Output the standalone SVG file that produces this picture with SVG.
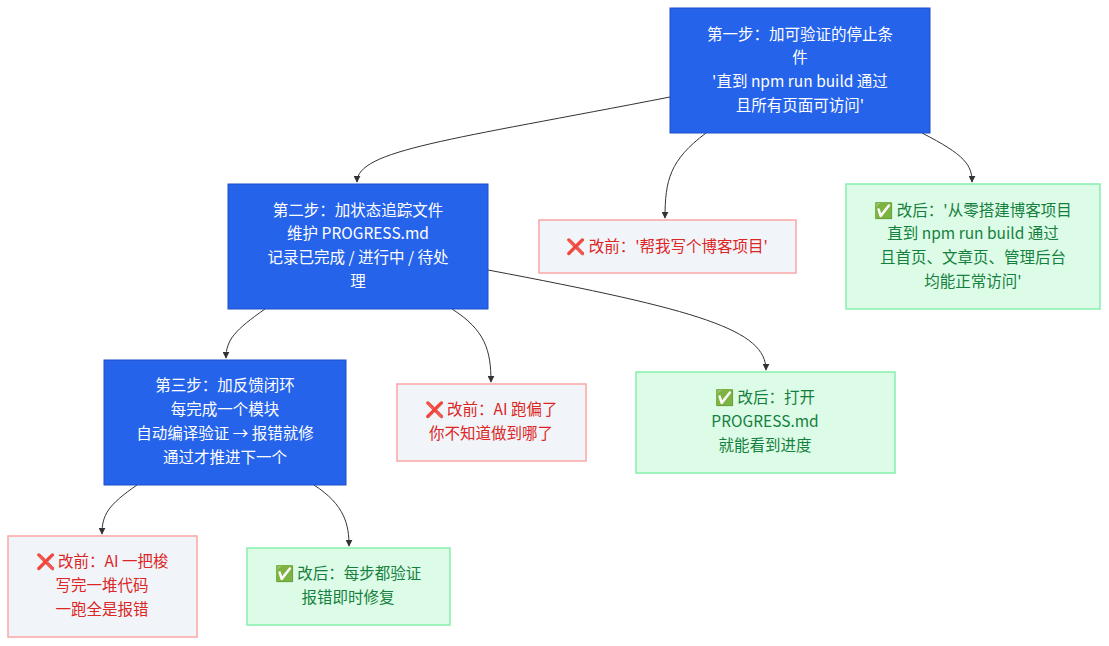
<svg xmlns="http://www.w3.org/2000/svg" width="1109" height="646" viewBox="0 0 1109 646">
<style>
text{font-family:"Noto Sans CJK SC","Noto Sans",sans-serif;font-size:15.5px;text-anchor:middle}
.s rect{fill:#2563eb;stroke:#1e4fc7;stroke-width:1}
.s text{fill:#fff}
.r rect{fill:#f1f5f9;stroke:#fca5a5;stroke-width:1.5}
.r text{fill:#dc2626}
.g rect{fill:#dcfce7;stroke:#86efac;stroke-width:1.5}
.g text{fill:#15803d}
.e path{fill:none;stroke:#333;stroke-width:1}
</style>
<defs><marker id="a" viewBox="0 0 10 10" refX="9" refY="5" markerWidth="7" markerHeight="7" orient="auto"><path d="M0,0L10,5L0,10z" fill="#333"/></marker></defs>
<rect width="1109" height="646" fill="#fff"/>
<g class="e">
<path d="M670,97 C450,140 357,150 357,182" marker-end="url(#a)"/>
<path d="M706,133 C670,160 665,180 665,218" marker-end="url(#a)"/>
<path d="M922,133 C965,155 972,165 972,182" marker-end="url(#a)"/>
<path d="M265,309 C235,330 226,340 226,358" marker-end="url(#a)"/>
<path d="M452,309 C485,330 491,350 491,382" marker-end="url(#a)"/>
<path d="M488,270 C700,310 766,330 766,370" marker-end="url(#a)"/>
<path d="M137,485 C108,505 102,515 102,534" marker-end="url(#a)"/>
<path d="M314,485 C345,505 349,525 349,546" marker-end="url(#a)"/>
</g>
<g id="n1" class="s"><rect x="670" y="8" width="260" height="125"/><text x="800" y="40">第一步：加可验证的停止条</text><text x="800" y="63">件</text><text x="800" y="87">'直到 npm run build 通过</text><text x="800" y="111">且所有页面可访问'</text></g>
<g id="n2" class="s"><rect x="228" y="184" width="260" height="125"/><text x="358" y="216">第二步：加状态追踪文件</text><text x="358" y="239">维护 PROGRESS.md</text><text x="358" y="263">记录已完成 / 进行中 / 待处</text><text x="358" y="287">理</text></g>
<g id="n3" class="s"><rect x="104" y="360" width="242" height="125"/><text x="225" y="391">第三步：加反馈闭环</text><text x="225" y="415">每完成一个模块</text><text x="225" y="439">自动编译验证 → 报错就修</text><text x="225" y="463">通过才推进下一个</text></g>
<g id="n4" class="r"><rect x="539" y="220" width="257" height="53"/><text x="667" y="252">❌ 改前：'帮我写个博客项目'</text></g>
<g id="n5" class="g"><rect x="846" y="184" width="254" height="125"/><text x="973" y="216">✅ 改后：'从零搭建博客项目</text><text x="973" y="239">直到 npm run build 通过</text><text x="973" y="263">且首页、文章页、管理后台</text><text x="973" y="287">均能正常访问'</text></g>
<g id="n6" class="r"><rect x="397" y="384" width="189" height="77"/><text x="491" y="415">❌ 改前：AI 跑偏了</text><text x="491" y="439">你不知道做到哪了</text></g>
<g id="n7" class="g"><rect x="636" y="372" width="259" height="101"/><text x="765" y="403">✅ 改后：打开</text><text x="765" y="427">PROGRESS.md</text><text x="765" y="451">就能看到进度</text></g>
<g id="n8" class="r"><rect x="8" y="536" width="189" height="101"/><text x="102" y="567">❌ 改前：AI 一把梭</text><text x="102" y="591">写完一堆代码</text><text x="102" y="615">一跑全是报错</text></g>
<g id="n9" class="g"><rect x="247" y="548" width="203" height="77"/><text x="348" y="579">✅ 改后：每步都验证</text><text x="348" y="603">报错即时修复</text></g>
</svg>
